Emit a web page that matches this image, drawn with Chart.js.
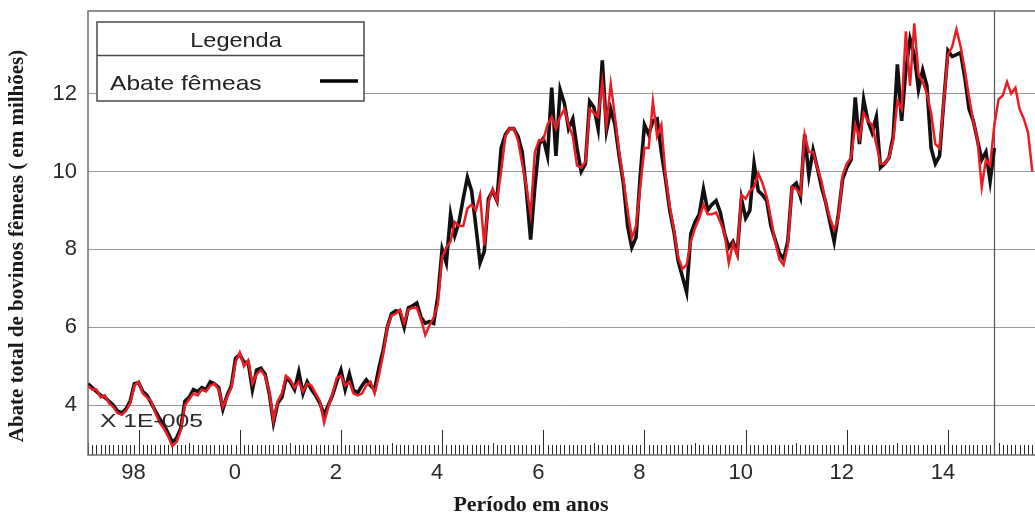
<!DOCTYPE html>
<html>
<head>
<meta charset="utf-8">
<title>Abate de fêmeas</title>
<script src="https://cdn.jsdelivr.net/npm/chart.js@4.4.1/dist/chart.umd.min.js"></script>
<style>
  html, body { margin: 0; padding: 0; background: #fff; }
  #wrap { width: 1035px; height: 516px; }
</style>
</head>
<body>
<div id="wrap"><canvas id="c" width="1035" height="516"></canvas></div>
<script>
// Monthly series, first month = January 1997
const startYear = 1997;

// Observed female cattle slaughter (millions), Jan 1997 - Dec 2014
const abateFemeas = [
  4.55, 4.45, 4.35, 4.25, 4.2, 4.1, 4.0, 3.85, 3.8, 3.9, 4.1, 4.55,
  4.58, 4.35, 4.25, 4.05, 3.85, 3.65, 3.5, 3.28, 3.05, 3.15, 3.4, 4.1,
  4.2, 4.4, 4.35, 4.45, 4.4, 4.6, 4.55, 4.45, 3.9, 4.25, 4.5, 5.2,
  5.3, 5.1, 5.1, 4.4, 4.9, 4.95, 4.8, 4.3, 3.55, 4.05, 4.2, 4.7,
  4.6, 4.4, 4.85, 4.3, 4.6, 4.4, 4.25, 4.05, 3.75, 4.0, 4.25, 4.6,
  4.9, 4.4, 4.8, 4.38, 4.32, 4.5, 4.65, 4.5, 4.4, 4.95, 5.4, 6.0,
  6.35, 6.42, 6.4, 6.0, 6.5, 6.55, 6.62, 6.25, 6.1, 6.15, 6.1, 6.8,
  8.0, 7.65, 8.9, 8.35, 8.7, 9.3, 9.85, 9.5, 8.6, 7.65, 7.95, 9.3,
  9.5, 9.25, 10.6, 10.95, 11.1, 11.1, 10.9, 10.5, 9.5, 8.25, 9.6, 10.7,
  10.85, 10.4, 12.15, 10.4, 12.1, 11.75, 11.1, 11.35, 10.6, 10.0, 10.2, 11.8,
  11.65, 11.1, 12.85, 11.05, 11.6, 11.2, 10.4, 9.7, 8.6, 8.05, 8.3, 9.9,
  11.2, 10.95, 11.3, 11.35, 10.5, 9.8, 9.0, 8.45, 7.7, 7.3, 6.9, 8.4,
  8.7, 8.9, 9.55, 9.0, 9.15, 9.25, 8.95, 8.4, 8.05, 8.2, 7.9, 9.3,
  8.8, 9.0, 10.2, 9.5, 9.4, 9.25, 8.6, 8.25, 7.9, 7.75, 8.2, 9.6,
  9.7, 9.35, 10.95, 9.9, 10.55, 10.1, 9.6, 9.2, 8.7, 8.2, 8.9, 9.8,
  10.1, 10.3, 11.9, 10.7, 11.85, 11.3, 11.0, 11.4, 10.1, 10.2, 10.35, 10.9,
  12.75, 11.3, 12.6, 13.4, 13.0, 12.1, 12.6, 12.2, 10.6, 10.2, 10.4, 11.8,
  13.1, 12.95, 13.0, 13.05, 12.4, 11.6, 11.3, 10.8, 10.3, 10.5, 9.75, 10.6
];

// Fitted / projected series, Jan 1997 - Sep 2015
const ajusteFemeas = [
  4.5, 4.4, 4.4, 4.2, 4.25, 4.05, 3.95, 3.8, 3.75, 3.85, 4.05, 4.5,
  4.6, 4.3, 4.2, 4.1, 3.8, 3.55, 3.4, 3.2, 2.95, 3.05, 3.35, 4.0,
  4.15, 4.3, 4.25, 4.4, 4.35, 4.5, 4.55, 4.4, 3.95, 4.2, 4.45, 5.1,
  5.35, 5.0, 5.15, 4.55, 4.8, 4.9, 4.75, 4.35, 3.6, 4.1, 4.3, 4.75,
  4.65, 4.45, 4.6, 4.35, 4.55, 4.5, 4.3, 4.1, 3.55, 3.95, 4.3, 4.7,
  4.75, 4.5, 4.6, 4.3, 4.25, 4.3, 4.5, 4.6, 4.3, 4.75, 5.3, 6.0,
  6.3, 6.35, 6.45, 6.1, 6.45, 6.5, 6.5, 6.2, 5.8, 6.05, 6.25, 6.6,
  7.8, 8.05, 8.2, 8.7, 8.6, 8.6, 9.05, 9.15, 9.0, 9.4, 8.1, 9.2,
  9.55, 9.25, 10.0, 10.9, 11.1, 11.1, 10.8, 10.2, 9.6, 8.9, 10.5, 10.8,
  10.8, 11.2, 11.4, 11.1, 11.4, 11.6, 11.2, 10.9, 10.15, 10.1, 10.25, 11.6,
  11.5, 11.4, 12.3, 11.2, 12.25, 11.4, 10.5, 9.8, 9.0, 8.3, 8.6, 9.6,
  10.6, 10.6, 11.8, 10.9, 11.2, 9.9, 9.1, 8.5, 7.8, 7.5, 7.6, 8.2,
  8.55, 8.8, 9.15, 8.9, 8.9, 8.95, 8.7, 8.4, 7.65, 8.15, 7.85, 9.4,
  9.3, 9.5, 9.6, 9.95, 9.7, 9.35, 8.8, 8.2, 7.75, 7.6, 8.1, 9.6,
  9.55, 9.4, 10.95, 10.5, 10.5, 10.1, 9.75, 9.2, 8.8, 8.5, 8.8, 9.9,
  10.2, 10.35, 11.2, 10.85, 11.5, 11.3, 11.2, 10.7, 10.2, 10.2, 10.35, 10.8,
  11.8, 11.6, 13.6, 12.2, 13.8, 12.5, 12.3, 12.0, 11.5, 10.7, 10.6, 11.8,
  13.0, 13.2, 13.65, 13.2, 12.6, 11.9, 11.3, 10.8, 9.6, 10.3, 10.15, 11.2,
  11.85, 11.95, 12.3, 12.0, 12.15, 11.6, 11.35, 11.0, 10.0
];

// Axis ticks
const yearTicks = [1998, 2000, 2002, 2004, 2006, 2008, 2010, 2012, 2014];
const yearLabels = ['98', '0', '2', '4', '6', '8', '10', '12', '14'];
const valueTicks = [4, 6, 8, 10, 12];

// Last observed month (December 2014)
const lastObserved = 2014 + 11 / 12;

const toPoints = (vals) => vals.map((v, i) => ({ x: startYear + i / 12, y: v }));

function stretchedText(ctx, text, x, y, sx, align) {
  ctx.save();
  ctx.translate(x, y);
  ctx.scale(sx, 1);
  ctx.textAlign = align;
  ctx.fillText(text, 0, 0);
  ctx.restore();
}

const decorations = {
  id: 'decorations',
  beforeDatasetsDraw(chart) {
    const { ctx, chartArea: a, scales: { x } } = chart;
    ctx.save();
    // monthly ticks rising from the bottom axis
    ctx.strokeStyle = '#2a2a2a';
    ctx.lineWidth = 1;
    const first = Math.ceil(x.min * 12), last = Math.floor(x.max * 12);
    for (let k = first; k <= last; k++) {
      const px = Math.round(x.getPixelForValue(k / 12)) + 0.5;
      const isYear = k % 12 === 0;
      const isMajor = isYear && (k / 12) % 2 === 0;
      const len = isMajor ? 25 : (isYear ? 12 : 10);
      ctx.beginPath();
      ctx.moveTo(px, a.bottom);
      ctx.lineTo(px, a.bottom - len);
      ctx.stroke();
    }
    // plot frame
    ctx.strokeStyle = '#6e6e6e';
    ctx.lineWidth = 1.5;
    ctx.beginPath();
    ctx.moveTo(a.right, a.top);
    ctx.lineTo(a.left, a.top);
    ctx.lineTo(a.left, a.bottom);
    ctx.lineTo(a.right, a.bottom);
    ctx.stroke();
    // end of observed data
    const vx = Math.round(x.getPixelForValue(lastObserved)) + 0.5;
    ctx.strokeStyle = '#555';
    ctx.lineWidth = 1.2;
    ctx.beginPath();
    ctx.moveTo(vx, a.top);
    ctx.lineTo(vx, a.bottom);
    ctx.stroke();
    ctx.restore();
  },
  afterDatasetsDraw(chart) {
    const { ctx } = chart;
    ctx.save();
    // legend box
    ctx.fillStyle = '#fff';
    ctx.fillRect(97, 22, 267, 79);
    ctx.strokeStyle = '#4a4a4a';
    ctx.lineWidth = 1.5;
    ctx.strokeRect(97, 22, 267, 79);
    ctx.beginPath();
    ctx.moveTo(97, 55.5);
    ctx.lineTo(364, 55.5);
    ctx.stroke();
    ctx.fillStyle = '#222';
    ctx.font = '21px "Liberation Sans", Arial, sans-serif';
    ctx.textBaseline = 'alphabetic';
    stretchedText(ctx, 'Legenda', 236, 46.5, 1.12, 'center');
    stretchedText(ctx, 'Abate fêmeas', 110, 90, 1.17, 'left');
    ctx.strokeStyle = '#000';
    ctx.lineWidth = 3.5;
    ctx.beginPath();
    ctx.moveTo(320, 81);
    ctx.lineTo(358, 81);
    ctx.stroke();
    // scale note
    ctx.fillStyle = '#2a2a2a';
    ctx.font = '19px "Liberation Sans", Arial, sans-serif';
    stretchedText(ctx, 'X 1E-005', 100, 427, 1.3, 'left');
    // axis titles
    ctx.fillStyle = '#1a1a1a';
    ctx.font = 'bold 21px "Liberation Serif", "Times New Roman", serif';
    ctx.textAlign = 'center';
    ctx.textBaseline = 'middle';
    ctx.save();
    ctx.translate(18, 246);
    ctx.rotate(-Math.PI / 2);
    ctx.fillText('Abate total de bovinos fêmeas ( em milhões)', 0, 0);
    ctx.restore();
    ctx.font = 'bold 22px "Liberation Serif", "Times New Roman", serif';
    ctx.fillText('Período em anos', 531, 505);
    ctx.restore();
  }
};

new Chart(document.getElementById('c'), {
  type: 'line',
  data: {
    datasets: [
      {
        label: 'Ajuste',
        data: toPoints(ajusteFemeas),
        borderColor: '#ec1c24',
        borderWidth: 2.5,
        pointRadius: 0,
        tension: 0,
        order: 0
      },
      {
        label: 'Abate fêmeas',
        data: toPoints(abateFemeas),
        borderColor: '#111',
        borderWidth: 3.6,
        pointRadius: 0,
        tension: 0,
        order: 1
      }
    ]
  },
  options: {
    responsive: false,
    animation: false,
    devicePixelRatio: 1,
    layout: { padding: { left: 0, right: 0, top: 11, bottom: 0 } },
    plugins: { legend: { display: false }, tooltip: { enabled: false } },
    scales: {
      x: {
        type: 'linear',
        min: 1997,
        max: 2015.72,
        afterBuildTicks: (s) => { s.ticks = yearTicks.map(v => ({ value: v })); },
        afterFit: (s) => { s.height = 61; s.paddingLeft = 0; s.paddingRight = 0; },
        grid: { display: false, drawTicks: false },
        border: { display: false },
        ticks: {
          autoSkip: false,
          maxRotation: 0,
          padding: 5,
          labelOffset: -5,
          color: '#2a2a2a',
          font: { family: '"Liberation Sans", Arial, sans-serif', size: 22 },
          callback: (v) => yearLabels[yearTicks.indexOf(v)]
        }
      },
      y: {
        type: 'linear',
        min: 2.72,
        max: 14.12,
        afterBuildTicks: (s) => { s.ticks = valueTicks.map(v => ({ value: v })); },
        afterFit: (s) => { s.width = 88; s.paddingTop = 0; s.paddingBottom = 0; },
        grid: { color: '#9a9a9a', lineWidth: 1, drawTicks: false },
        border: { display: false },
        ticks: {
          padding: 11,
          color: '#2a2a2a',
          font: { family: '"Liberation Sans", Arial, sans-serif', size: 22 }
        }
      }
    }
  },
  plugins: [decorations]
});
</script>
</body>
</html>
